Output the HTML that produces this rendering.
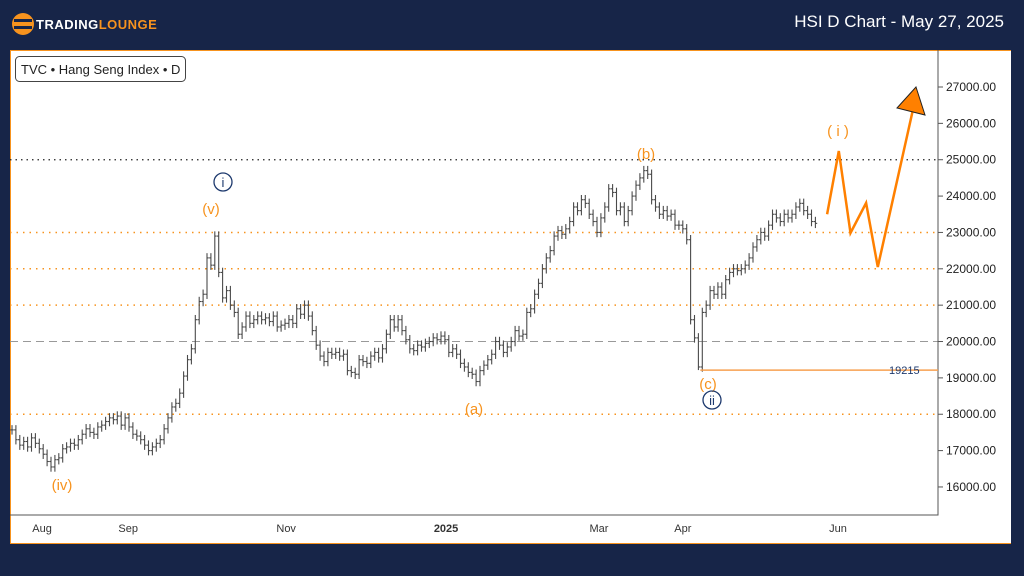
<!DOCTYPE html>
<html><head><meta charset="utf-8"><style>
html,body{margin:0;padding:0;background:#172548;width:1024px;height:576px;overflow:hidden;font-family:"Liberation Sans",sans-serif}
#hdr{position:absolute;left:0;top:0;width:1024px;height:48px}
#title{position:absolute;right:20px;top:12px;color:#fff;font-size:17px}
#panel{position:absolute;left:10px;top:50px;width:1001px;height:494px;background:#fff;border-top:1px solid #f7931e;border-left:1px solid #f7931e;border-bottom:1px solid #f7931e;box-sizing:border-box}
svg{position:absolute;left:0;top:0}
</style></head><body>
<div id="hdr">
<svg width="300" height="48">
<circle cx="23" cy="24" r="11" fill="#f7931e"/><rect x="14" y="19" width="18" height="3" fill="#172548"/><rect x="14" y="26" width="18" height="3" fill="#172548"/>
<text x="36" y="29" fill="#fff" font-size="13" font-weight="bold" font-family="Liberation Sans" letter-spacing="0.5">TRADING<tspan fill="#f7931e">LOUNGE</tspan></text>
</svg>
<div id="title">HSI D Chart - May 27, 2025</div>
</div>
<div id="panel"></div>
<svg id="chart" width="1024" height="576"></svg>
<script>
const closes=[17570,17300,17150,17250,17100,17350,17200,17050,16900,16700,16550,16750,16800,17050,17100,17200,17150,17300,17450,17600,17500,17450,17650,17700,17800,17900,17850,17950,17700,17900,17650,17450,17400,17300,17150,17000,17100,17200,17300,17600,17900,18200,18300,18580,19050,19500,19800,20600,21100,21300,22300,22100,22900,21900,21200,21400,21000,20800,20200,20400,20700,20500,20600,20700,20600,20650,20550,20700,20400,20450,20500,20600,20500,20900,20750,21000,20700,20300,19900,19600,19450,19700,19650,19700,19600,19650,19200,19150,19100,19500,19450,19400,19600,19700,19550,19800,20200,20600,20400,20600,20300,20050,19800,19750,19900,19850,19950,20000,20100,20050,20150,20050,19700,19800,19650,19400,19300,19150,19100,18900,19200,19350,19500,19650,20000,19900,19700,19850,20000,20300,20150,20200,20800,20900,21300,21600,22000,22300,22500,22900,23050,22950,23100,23300,23700,23600,23900,23800,23500,23300,23000,23400,23700,24200,24100,23600,23700,23300,23600,24000,24300,24500,24700,24600,23900,23700,23500,23600,23450,23500,23200,23200,23100,22800,20600,20100,19300,20800,21000,21400,21300,21500,21300,21700,21900,22000,21950,22000,22100,22300,22600,22800,23000,22900,23200,23500,23400,23300,23500,23400,23500,23700,23800,23600,23500,23300,23250];
const projIdx=[209,212,215,219,222,231];
const projPrice=[23500,25240,22985,23810,22050,26370];
const yTicks=[16000,17000,18000,19000,20000,21000,22000,23000,24000,25000,26000,27000];
const orangeLevels=[18000,21000,22000,23000];
const monthLabels=["Aug","Sep","Nov","2025","Mar","Apr","Jun"];
const monthIdx=[7.7,29.8,70.3,111.3,150.5,172,211.8];
const supportLevel=19215;
const NS="http://www.w3.org/2000/svg";
const svg=document.getElementById('chart');
const L=10,R=938,T=50,B=515;
const X=i=>12+3.9*i;
const Y=p=>87+(27000-p)*0.03636;
function mk(t,a,parent){const e=document.createElementNS(NS,t);for(const k in a)e.setAttribute(k,a[k]);(parent||svg).appendChild(e);return e;}
orangeLevels.forEach(v=>{const l=mk('line',{x1:L,x2:R,y1:Y(v),y2:Y(v),stroke:'#f7931e','stroke-width':1.5,'stroke-dasharray':'1.5 5'});

});
const l25=mk('line',{x1:L,x2:R,y1:Y(25000),y2:Y(25000),stroke:'#222','stroke-width':1.3,'stroke-dasharray':'1.5 4'});


const l20=mk('line',{x1:L,x2:R,y1:Y(20000),y2:Y(20000),stroke:'#999','stroke-width':1,'stroke-dasharray':'8 5'});


const ax=mk('path',{d:`M${R} ${T}V${B}H${L}`,fill:'none',stroke:'#555','stroke-width':1});


yTicks.forEach(v=>{mk('line',{x1:R,x2:R+5,y1:Y(v),y2:Y(v),stroke:'#555'});
const t=mk('text',{x:946,y:Y(v)+4,'font-size':12,fill:'#222'});t.textContent=v.toFixed(2);

});
monthLabels.forEach((m,k)=>{const t=mk('text',{x:X(monthIdx[k]),y:532,'font-size':11,fill:'#333','text-anchor':'middle','font-weight':m==='2025'?'bold':'normal'});t.textContent=m;

});
closes.forEach((c,i)=>{const o=i?closes[i-1]:c;const hi=Math.max(o,c)+130,lo=Math.min(o,c)-130;const x=X(i);
const g=mk('g',{stroke:'#4a4a4a','stroke-width':1.1});


mk('line',{x1:x,x2:x,y1:Y(hi),y2:Y(i===176?19215:lo)},g);
mk('line',{x1:x-1.8,x2:x,y1:Y(o),y2:Y(o)},g);
mk('line',{x1:x,x2:x+1.8,y1:Y(c),y2:Y(c)},g);});
const sl=mk('line',{x1:X(176.5),x2:R,y1:Y(supportLevel),y2:Y(supportLevel),stroke:'#f7a050','stroke-width':1.5});


const st=mk('text',{x:889,y:Y(supportLevel)+4,'font-size':11,fill:'#1e3a6e'});st.textContent=supportLevel;


const pp=mk('polyline',{points:projIdx.map((d,k)=>X(d)+','+Y(projPrice[k])).join(' '),fill:'none',stroke:'#ff8000','stroke-width':2.5});


const ar=mk('polygon',{points:'916,87 925,115 897,108',fill:'#ff8000',stroke:'#222','stroke-width':1});


[["(iv)",62,490,'#f7931e'],["(v)",211,214,'#f7931e'],["(a)",474,414,'#f7931e'],["(b)",646,159,'#f7931e'],["(c)",708,389,'#f7931e'],["( i )",838,136,'#f7931e']].forEach(a=>{const t=mk('text',{x:a[1],y:a[2],'font-size':15,fill:a[3],'text-anchor':'middle'});t.textContent=a[0];

});
[["i",223,182],["ii",712,400]].forEach(a=>{mk('circle',{cx:a[1],cy:a[2],r:9,fill:'none',stroke:'#1e3a6e','stroke-width':1.3});
const t=mk('text',{x:a[1],y:a[2]+5,'font-size':13,fill:'#1e3a6e','text-anchor':'middle'});t.textContent=a[0];

});
const lb=mk('rect',{x:15.5,y:56.5,width:170,height:25,rx:4,fill:'#fff',stroke:'#444'});


const lt=mk('text',{x:21,y:74,'font-size':13,fill:'#222'});lt.textContent='TVC • Hang Seng Index • D';


</script>
</body></html>
